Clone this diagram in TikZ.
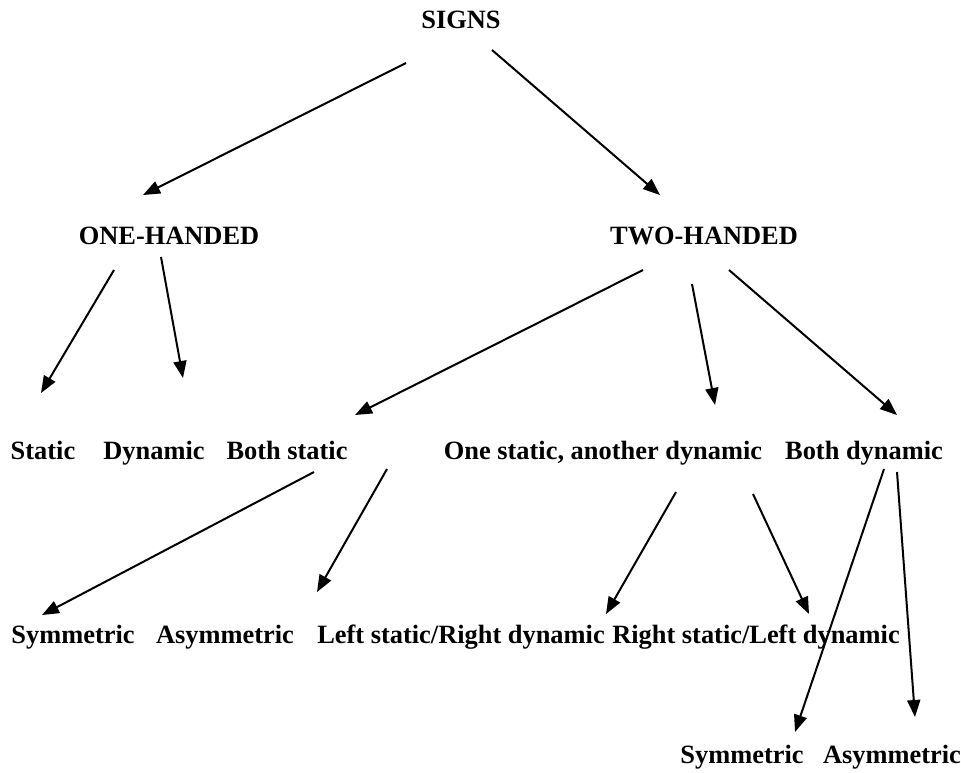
\documentclass[tikz,border=0pt]{standalone}
\usepackage{fontspec}
\setmainfont{Liberation Serif}
\usetikzlibrary{arrows.meta}

\tikzset{
  lbl/.style={font=\fontsize{13.2}{15}\selectfont\bfseries, inner sep=0pt,
    text height=8.7pt, text depth=0pt},
  arr/.style={line width=1pt, -{Triangle[length=8.5pt,width=6.5pt]}}
}

\begin{document}
\begin{tikzpicture}[x=0.5pt, y=-0.5pt]
      \useasboundingbox (0, 0) rectangle (961, 772);
      \node[lbl] (signs) at (461, 20) {SIGNS};
      \node[lbl] (one) at (169, 236) {ONE-HANDED};
      \node[lbl] (two) at (704, 236) {TWO-HANDED};
      \node[lbl] (static) at (43, 451) {Static};
      \node[lbl] (dyn) at (154, 451) {Dynamic};
      \node[lbl] (bothst) at (287, 451) {Both static};
      \node[lbl] (onest) at (603, 451) {One static, another dynamic};
      \node[lbl] (bothdyn) at (864, 451) {Both dynamic};
      \node[lbl] (symA) at (73, 635) {Symmetric};
      \node[lbl] (asymA) at (225, 635) {Asymmetric};
      \node[lbl] (lsrd) at (461, 635) {Left static/Right dynamic};
      \node[lbl] (rsld) at (756, 635) {Right static/Left dynamic};
      \node[lbl] (symB) at (742, 755) {Symmetric};
      \node[lbl] (asymB) at (892, 755) {Asymmetric};
      % first level
      \draw[arr] ([shift={(-55, 43)}]signs.center) -- ([shift={(-26, -41)}]one.center);
      \draw[arr] ([shift={(31, 30)}]signs.center) -- ([shift={(-44, -41)}]two.center);
      % one-handed
      \draw[arr] ([shift={(-55, 34)}]one.center) -- ([shift={(-2, -58)}]static.center);
      \draw[arr] ([shift={(-8, 21)}]one.center) -- ([shift={(29, -73)}]dyn.center);
      % two-handed
      \draw[arr] ([shift={(-61, 34)}]two.center) -- ([shift={(68, -36)}]bothst.center);
      \draw[arr] ([shift={(-12, 48)}]two.center) -- ([shift={(112, -46)}]onest.center);
      \draw[arr] ([shift={(25, 34)}]two.center) -- ([shift={(33, -36)}]bothdyn.center);
      % both static
      \draw[arr] ([shift={(27, 21)}]bothst.center) -- ([shift={(-31, -20)}]symA.center);
      \draw[arr] ([shift={(100, 18)}]bothst.center) -- ([shift={(92, -43)}]asymA.center);
      % one static, another dynamic
      \draw[arr] ([shift={(73, 41)}]onest.center) -- ([shift={(145, -21)}]lsrd.center);
      \draw[arr] ([shift={(150, 43)}]onest.center) -- ([shift={(53, -21)}]rsld.center);
      % both dynamic
      \draw[arr] ([shift={(20, 18)}]bothdyn.center) -- ([shift={(53, -23)}]symB.center);
      \draw[arr] ([shift={(33, 21)}]bothdyn.center) -- ([shift={(23, -38)}]asymB.center);
\end{tikzpicture}
\end{document}
